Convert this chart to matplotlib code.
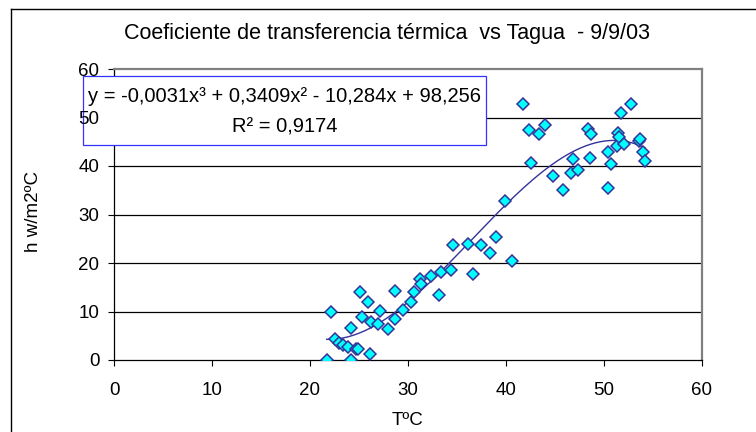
import numpy as np
import matplotlib
matplotlib.use("Agg")
import matplotlib.pyplot as plt
from matplotlib.patches import Rectangle
from matplotlib.lines import Line2D

plt.rcParams['font.family'] = ['Liberation Sans', 'DejaVu Sans']

# temperatura del agua (ºC) y coeficiente h (w/m2ºC)
T = [21.7, 22.1, 22.5, 23.0, 23.4, 23.9, 24.2, 24.2, 24.7, 24.9,
     25.1, 25.3, 25.9, 26.1, 26.2, 26.9, 27.1, 28.0, 28.7, 28.7,
     29.5, 30.3, 30.6, 31.2, 31.3, 32.3, 33.2, 33.4, 34.4, 34.6,
     36.1, 36.6, 37.4, 38.4, 39.0, 39.9, 40.6, 41.7, 42.3, 42.6,
     43.4, 44.0, 44.8, 45.8, 46.6, 46.8, 47.3, 48.4, 48.6, 48.7,
     50.4, 50.4, 50.7, 51.3, 51.4, 51.5, 51.7, 52.0, 52.8, 53.6,
     53.7, 54.0, 54.2]
h = [0.0, 9.8, 4.3, 3.6, 3.1, 2.7, 6.7, 0.0, 2.2, 2.2,
     14.0, 8.9, 12.0, 1.2, 7.9, 7.5, 10.2, 6.3, 14.2, 8.5,
     10.4, 12.0, 14.0, 16.7, 15.7, 17.4, 13.3, 18.2, 18.6, 23.7,
     24.0, 17.7, 23.7, 22.1, 25.3, 32.8, 20.5, 52.8, 47.4, 40.7,
     46.5, 48.4, 37.9, 35.0, 38.6, 41.4, 39.2, 47.6, 41.7, 46.5,
     42.9, 35.4, 40.5, 44.2, 46.9, 45.9, 50.9, 44.5, 52.8, 45.2,
     45.5, 42.9, 41.0]

xticks = [0, 10, 20, 30, 40, 50, 60]
yticks = [0, 10, 20, 30, 40, 50, 60]

title = 'Coeficiente de transferencia térmica  vs Tagua  - 9/9/03'
eq_text = 'y = -0,0031x³ + 0,3409x² - 10,284x + 98,256'
r2_text = 'R² = 0,9174'

W, H = 756, 432
fig = plt.figure(figsize=(W / 100, H / 100), dpi=100)
ax = fig.add_axes([114 / W, 1 - 360 / H, 588 / W, 291 / H])

# linea de tendencia polinomica de grado 3
coef = np.polyfit(T, h, 3)
xs = np.linspace(min(T), max(T), 200)
ax.plot(xs, np.polyval(coef, xs), color='#333399', lw=1.0, zorder=3)

ax.plot(T, h, ls='none', marker='D', ms=5.8, mfc='#00FFFF', mec='#333399',
        mew=1.1, zorder=4)

for v in yticks[1:-1]:
    ax.axhline(v, color='black', lw=0.9, zorder=1)

ax.set_xlim(0, 60)
ax.set_ylim(0, 60)
ax.set_xticks(xticks)
ax.set_yticks(yticks)
ax.tick_params(direction='out', length=4.5, width=0.8, labelsize=13.5)
ax.tick_params(axis='x', pad=11)
ax.tick_params(axis='y', pad=6)
# la marca del 50 queda tapada por la caja
ax.yaxis.get_major_ticks()[5].tick1line.set_visible(False)

for s in ['left', 'bottom']:
    ax.spines[s].set_color('black')
    ax.spines[s].set_linewidth(0.9)
for s in ['top', 'right']:
    ax.spines[s].set_color('#808080')
    ax.spines[s].set_linewidth(1.6)
ax.spines['left'].set_zorder(1.2)
ax.xaxis.set_zorder(1.5)
ax.yaxis.set_zorder(1.5)

# caja de la ecuacion (debajo de las etiquetas, encima de la grilla)
ax.add_patch(Rectangle((83 / W, 1 - 145 / H), 403 / W, 69.3 / H,
                       transform=fig.transFigure, facecolor='white',
                       edgecolor='#3333FF', lw=0.9, clip_on=False, zorder=1.3))
ax.text(285 / W, 1 - 101.5 / H, eq_text, transform=fig.transFigure,
        ha='center', va='baseline', fontsize=14.5, zorder=5)
ax.text(285 / W, 1 - 132.7 / H, r2_text, transform=fig.transFigure,
        ha='center', va='baseline', fontsize=14.5, zorder=5)

fig.text(386.6 / W, 1 - 39.3 / H, title, ha='center', va='baseline', fontsize=15.5)
fig.text(408 / W, 1 - 425 / H, 'TºC', ha='center', va='baseline', fontsize=13.5)
fig.text(33.3 / W, 1 - 211 / H, 'h w/m2ºC', rotation=90, ha='center',
         va='center', fontsize=13.5)

# borde del area del grafico
fig.add_artist(Line2D([11 / W, 11 / W], [0, 1 - 9.3 / H], color='black', lw=1))
fig.add_artist(Line2D([11 / W, 1], [1 - 9.3 / H, 1 - 9.3 / H], color='black', lw=1))

fig.savefig('out.png', dpi=100)
